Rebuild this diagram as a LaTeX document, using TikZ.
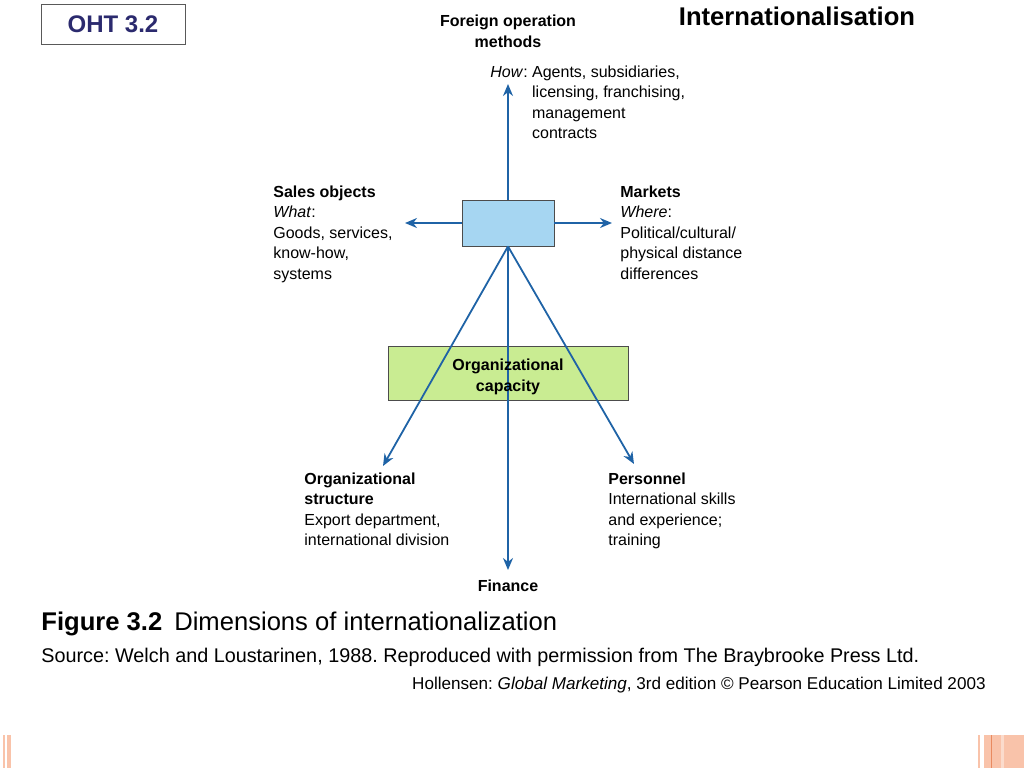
\documentclass[tikz,border=0pt]{standalone}
\usepackage{fontspec}
\setmainfont{Liberation Sans}
\usetikzlibrary{arrows.meta, positioning}
\definecolor{flowblue}{HTML}{1F63A6}
\definecolor{boxblue}{HTML}{A6D6F2}
\definecolor{boxgreen}{HTML}{C9EC92}
\definecolor{ohtblue}{HTML}{2B2A6E}
\definecolor{deco}{HTML}{F9C3AA}
\definecolor{decodark}{HTML}{E98A60}
\frenchspacing
\tikzset{
  flow/.style={draw=flowblue, line width=0.9pt, -{Stealth[length=6pt,width=5pt]}},
  dimtext/.style={align=left, anchor=north west, font=\fontsize{8}{10.3}\selectfont, inner sep=0pt}
}
\begin{document}
\begin{tikzpicture}[x=0.5pt, y=-0.5pt]
    \useasboundingbox (0,0) rectangle (1024,768);

    % slide header
    \node[draw=gray!70!black, minimum width=72pt, minimum height=20pt, font=\bfseries\fontsize{12}{14}\selectfont, text=ohtblue] (oht) at (113,24) {OHT 3.2};
    \node[font=\bfseries\fontsize{12.8}{14}\selectfont] (title) at (797,16) {Internationalisation};

    % boxes
    \node[draw=gray!60!black, fill=boxblue, minimum width=46pt, minimum height=23pt] (hub) at (508,223) {};
    \node[draw=gray!60!black, fill=boxgreen, minimum width=120pt, minimum height=27pt] (capacity) at (508,373) {};

    % end points
    \coordinate (up) at (508,84);
    \coordinate (left) at (405,223);
    \coordinate (right) at (612,223);
    \coordinate (down) at (508,570);
    \coordinate (downleft) at (383,466);
    \coordinate (downright) at (634,464);

    \draw[flow] (hub.north) -- (up);
    \draw[flow] (hub.west) -- (left);
    \draw[flow] (hub.east) -- (right);
    \draw[flow] (hub.south) -- (downleft);
    \draw[flow] (hub.south) -- (downright);
    \draw[flow] (hub.south) -- (down);
    \node[font=\bfseries\fontsize{8}{10.3}\selectfont, align=center, inner sep=0pt] (capacitytext) at (508,377) {Organizational\\capacity};

    % labels
    \node[font=\bfseries\fontsize{8}{10.3}\selectfont, align=center] (methods) at (508,31) {Foreign operation\\methods};
    \node[dimtext] (how) at (490,65) {\textit{How}: Agents, subsidiaries,\\\phantom{\textit{How}: }licensing, franchising,\\\phantom{\textit{How}: }management\\\phantom{\textit{How}: }contracts};
    \node[dimtext] (sales) at (273,185) {\textbf{Sales objects}\\\textit{What}:\\Goods, services,\\know-how,\\systems};
    \node[dimtext] (markets) at (620,185) {\textbf{Markets}\\\textit{Where}:\\Political/cultural/\\physical distance\\differences};
    \node[dimtext] (structure) at (304,472) {\textbf{Organizational}\\\textbf{structure}\\Export department,\\international division};
    \node[dimtext] (personnel) at (608,472) {\textbf{Personnel}\\International skills\\and experience;\\training};
    \node[font=\bfseries\fontsize{8}{10.3}\selectfont] (finance) at (508,586) {Finance};

    % caption
    \node[anchor=west, font=\fontsize{12.8}{14}\selectfont, inner sep=0pt] (caption) at (41,624) {\textbf{Figure 3.2}\hspace{6pt}Dimensions of internationalization};
    \node[anchor=west, font=\fontsize{9.9}{12}\selectfont, inner sep=0pt] (source) at (41,657) {Source: Welch and Loustarinen, 1988. Reproduced with permission from The Braybrooke Press Ltd.};
    \node[anchor=east, font=\fontsize{8.55}{10}\selectfont, inner sep=0pt] (credit) at (986,685) {Hollensen: \textit{Global Marketing}, 3rd edition © Pearson Education Limited 2003};

    % corner decoration
    \fill[deco] (3,735) rectangle (5,768);
    \fill[deco] (7,735) rectangle (11,768);
    \fill[deco] (978,735) rectangle (980,768);
    \fill[deco] (984,735) rectangle (1024,768);
    \fill[decodark] (991,735) rectangle (992,768);
    \fill[deco!60] (1001,735) rectangle (1004,768);
\end{tikzpicture}
\end{document}
